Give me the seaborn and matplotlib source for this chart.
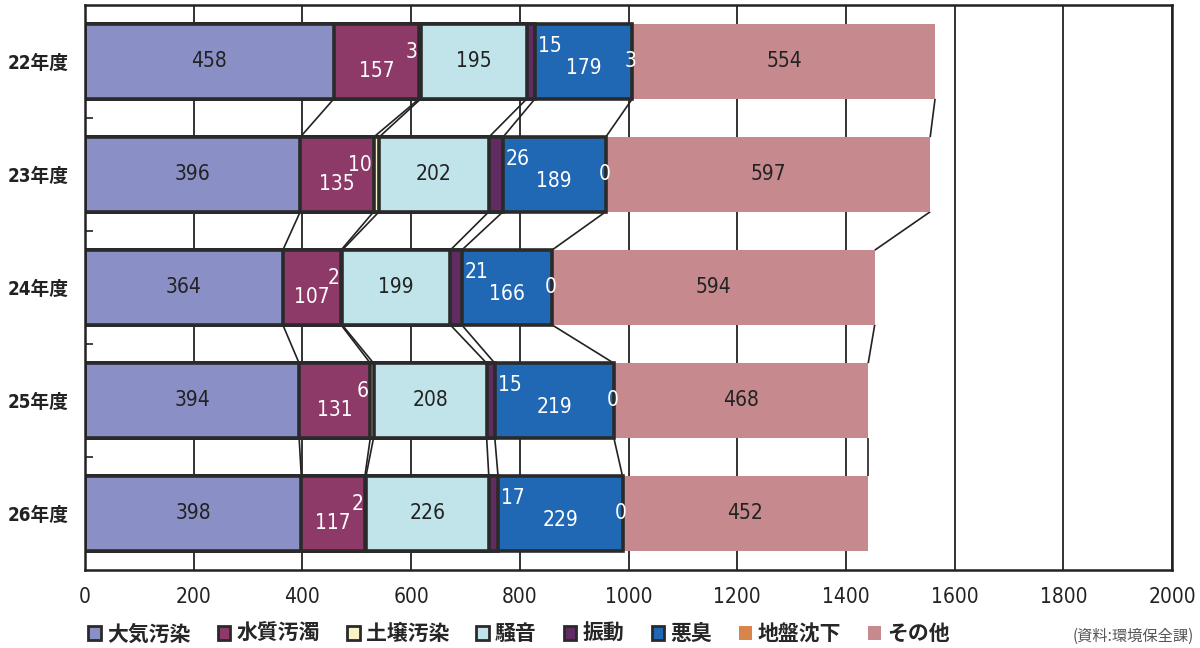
import matplotlib
matplotlib.use("Agg")
import matplotlib.pyplot as plt
import seaborn as sns
import pandas as pd
import numpy as np
from matplotlib.patches import Patch

years = ["22年度", "23年度", "24年度", "25年度", "26年度"]
series = ["大気汚染", "水質汚濁", "土壌汚染", "騒音", "振動", "悪臭", "地盤沈下", "その他"]
taiki = [458, 396, 364, 394, 398]
suishitsu = [157, 135, 107, 131, 117]
dojo = [3, 10, 2, 6, 2]
souon = [195, 202, 199, 208, 226]
shindo = [15, 26, 21, 15, 17]
akushu = [179, 189, 166, 219, 229]
jiban = [3, 0, 0, 0, 0]
sonota = [554, 597, 594, 468, 452]
xticks = list(range(0, 2001, 200))
source_text = "(資料:環境保全課)"

colors = ["#8A8FC6", "#8E3A68", "#F7F5C8", "#C0E4EA", "#612C62", "#2068B4", "#D9844A", "#C68A8E"]
edged = [True, True, True, True, True, True, False, False]

sns.set_theme(style="white")
NUM = ["DejaVu Sans"]
JPN = ["DejaVu Sans", "Noto Sans CJK JP"]
JP = ["Noto Sans CJK JP", "DejaVu Sans"]
plt.rcParams["font.family"] = JP

vals = np.array([taiki, suishitsu, dojo, souon, shindo, akushu, jiban, sonota], dtype=float)
cum = np.cumsum(vals, axis=0)
starts = cum - vals

fig = plt.figure(figsize=(12, 6.48), dpi=100)
ax = fig.add_axes([0.0708, 0.1204, 0.9059, 0.8719])

H = 0.66
for x in xticks:
    ax.axvline(x, color="#222222", lw=1.3, zorder=0)

for k in range(len(series) - 1, -1, -1):
    df = pd.DataFrame({"year": years, "value": cum[k]})
    sns.barplot(data=df, x="value", y="year", orient="h", ax=ax, color=colors[k],
                width=H, saturation=1, errorbar=None,
                edgecolor="#2a2a2a" if edged[k] else colors[k],
                linewidth=2.6 if edged[k] else 0.0, zorder=2 + (len(series) - k) * 0.01)

for k in range(len(series)):
    if k == 6:
        continue
    for i in range(len(years) - 1):
        ax.plot([cum[k][i], cum[k][i + 1]], [i + H / 2, i + 1 - H / 2],
                color="#222222", lw=1.2, zorder=1.5, solid_capstyle="butt")

lab = dict(fontsize=15, family=NUM, stretch="condensed", zorder=5)
for i in range(len(years)):
    ax.annotate(f"{int(taiki[i])}", (starts[0][i] + vals[0][i] / 2, i), ha="center", va="center", color="#222222", **lab)
    ax.annotate(f"{int(suishitsu[i])}", (starts[1][i] + vals[1][i] / 2, i), xytext=(0, -7), textcoords="offset points",
                ha="center", va="center", color="white", **lab)
    ax.annotate(f"{int(dojo[i])}", (cum[1][i], i), xytext=(-1, 7), textcoords="offset points",
                ha="right", va="center", color="white", **lab)
    ax.annotate(f"{int(souon[i])}", (starts[3][i] + vals[3][i] / 2, i), ha="center", va="center", color="#222222", **lab)
    ax.annotate(f"{int(shindo[i])}", (cum[4][i], i), xytext=(2, 11), textcoords="offset points",
                ha="left", va="center", color="white", **lab)
    ax.annotate(f"{int(akushu[i])}", (starts[5][i] + vals[5][i] / 2, i), xytext=(0, -5), textcoords="offset points",
                ha="center", va="center", color="white", **lab)
    ax.annotate(f"{int(jiban[i])}", (cum[5][i], i), xytext=(-1, 0), textcoords="offset points",
                ha="center", va="center", color="white", **lab)
    ax.annotate(f"{int(sonota[i])}", (starts[7][i] + vals[7][i] / 2, i), ha="center", va="center", color="#222222", **lab)

ax.set_xlim(0, 2000)
ax.set_ylim(4.5, -0.5)
ax.set_xticks(xticks)
ax.set_xticklabels([str(x) for x in xticks], family=NUM, stretch="condensed", fontsize=15, color="#222222")
ax.set_yticks(range(len(years)))
ax.set_yticklabels(years, family=JPN, stretch="condensed", fontsize=13.5, fontweight="bold", color="#222222")
ax.set_yticks([0.5, 1.5, 2.5, 3.5], minor=True)
ax.tick_params(axis="y", which="major", length=0, pad=12)
ax.tick_params(axis="y", which="minor", length=6, width=1.2, direction="in", color="#222222", left=True)
ax.tick_params(axis="x", length=0, pad=12)
ax.set_xlabel("")
ax.set_ylabel("")
for s in ax.spines.values():
    s.set_color("#222222")
    s.set_linewidth(1.8)
    s.set_zorder(6)

handles = [Patch(facecolor=colors[k], edgecolor="#2a2a2a" if edged[k] else colors[k],
                 linewidth=2 if edged[k] else 0) for k in range(len(series))]
fig.legend(handles, series, loc="center left", bbox_to_anchor=(0.058, 0.022), ncol=8, frameon=False,
           handlelength=0.6, handleheight=0.6, handletextpad=0.3, columnspacing=1.3,
           prop={"family": JP, "size": 15, "weight": "bold"})
fig.text(0.995, 0.018, source_text, ha="right", va="center", fontsize=11, color="#555555", family=JP)

fig.savefig("out.png", dpi=100)
